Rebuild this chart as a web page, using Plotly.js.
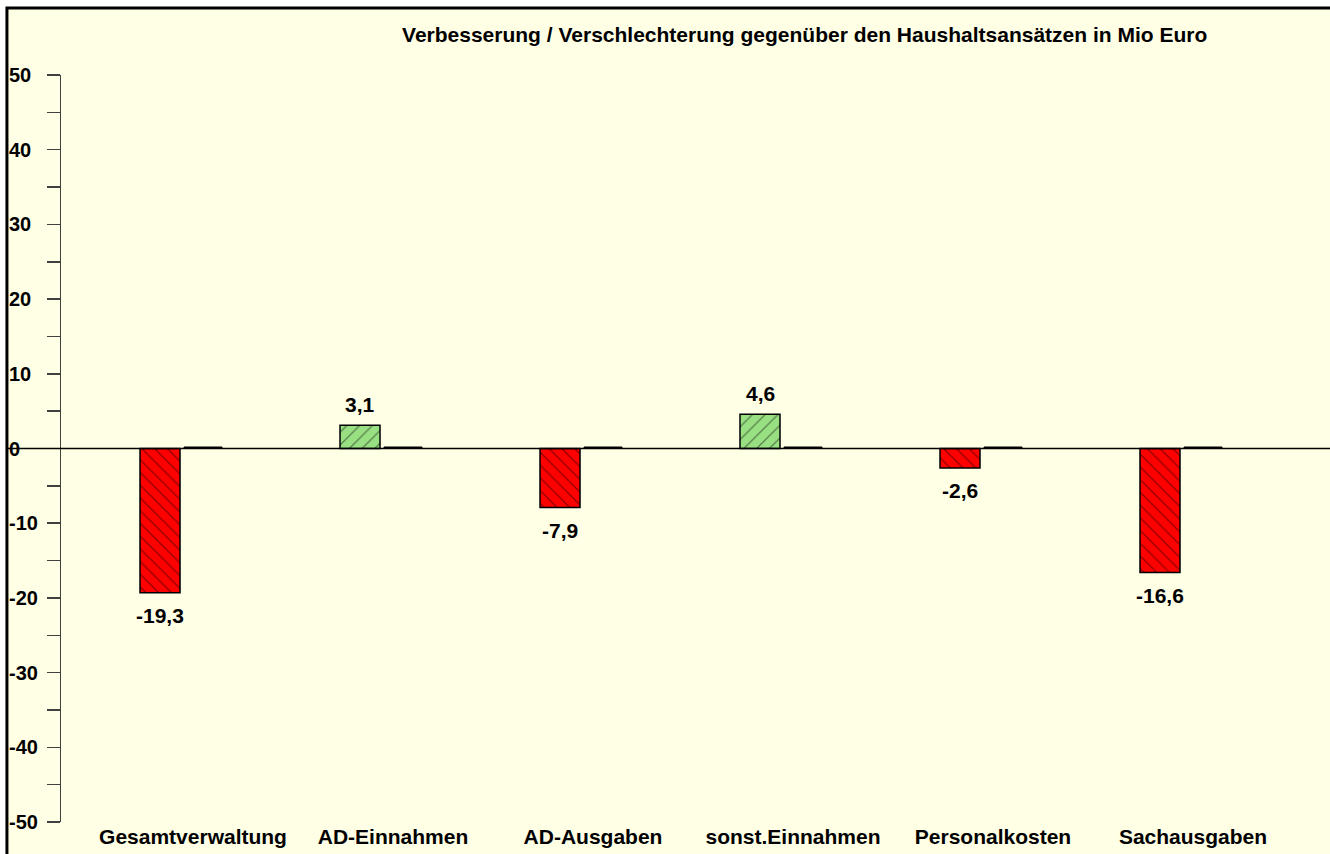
<!DOCTYPE html>
<html>
<head>
<meta charset="utf-8">
<script src="https://cdn.plot.ly/plotly-3.0.1.min.js"></script>
<style>
html,body{margin:0;padding:0;background:#ffffff;}
#chart{width:1330px;height:854px;}
</style>
</head>
<body>
<div id="chart"></div>
<script>
// ---- data ----
const categories = ['Gesamtverwaltung', 'AD-Einnahmen', 'AD-Ausgaben', 'sonst.Einnahmen', 'Personalkosten', 'Sachausgaben'];
const abweichung = [-19.3, 3.1, -7.9, 4.6, -2.6, -16.6];
const zweiteReihe = [0.2, 0.2, 0.2, 0.2, 0.2, 0.2];
const yTickVals = [-50, -40, -30, -20, -10, 0, 10, 20, 30, 40, 50];
const yTickText = ['-50', '-40', '-30', '-20', '-10', '0', '10', '20', '30', '40', '50'];
const chartTitle = 'Verbesserung / Verschlechterung gegenüber den Haushaltsansätzen in Mio Euro';

// ---- styles ----
const FONT = 'Liberation Sans, Arial, sans-serif';
const RED = '#ff0000';
const GREEN = '#99e083';
const BG = '#ffffe6';
const AXIS = '#404040';

// split the main series by sign so each part has its own colour and hatch
const verschlechterung = abweichung.map(v => v < 0 ? v : null);
const verbesserung = abweichung.map(v => v >= 0 ? v : null);
const barLabels = abweichung.map(v => String(v).replace('.', ','));

function hatchBar(yVals, color, shape) {
  return {
    type: 'bar',
    x: categories,
    y: yVals,
    offset: -0.205,
    width: 0.2,
    marker: {
      color: color,
      line: {color: '#000000', width: 1.5},
      pattern: {shape: shape, fgcolor: '#000000', bgcolor: color, size: 9, solidity: 0.13, fillmode: 'overlay'}
    },
    hoverinfo: 'x+y',
    showlegend: false
  };
}

const traces = [
  hatchBar(verschlechterung, RED, '\\'),
  hatchBar(verbesserung, GREEN, '/'),
  {
    type: 'bar',
    x: categories,
    y: zweiteReihe,
    offset: 0.015,
    width: 0.19,
    marker: {color: '#000000', line: {color: '#000000', width: 1}},
    hoverinfo: 'skip',
    showlegend: false
  },
  {
    type: 'scatter', x: [], y: [], yaxis: 'y2', xaxis: 'x',
    showlegend: false, hoverinfo: 'skip'
  }
];

// value labels, placed at each bar end through the axes
const labelAnnotations = abweichung.map((v, i) => ({
  xref: 'x', yref: 'y',
  x: categories[i], y: v,
  text: barLabels[i],
  showarrow: false,
  xanchor: 'center',
  yanchor: v < 0 ? 'top' : 'bottom',
  xshift: -21,
  yshift: v < 0 ? -9 : 7,
  font: {family: FONT, size: 21, color: '#000000', weight: 'bold'}
}));

const layout = {
  width: 1330,
  height: 854,
  margin: {l: 8, r: 0, t: 75, b: 32},
  paper_bgcolor: '#ffffff',
  plot_bgcolor: 'rgba(0,0,0,0)',
  barmode: 'overlay',
  showlegend: false,
  title: {
    text: chartTitle,
    font: {family: FONT, size: 21, color: '#000000', weight: 'bold'},
    x: 0.605, xanchor: 'center',
    y: 0.96, yanchor: 'middle'
  },
  xaxis: {
    type: 'category',
    domain: [0.0401, 1],
    range: [-0.6, 5.745],
    showline: false,
    showgrid: false,
    zeroline: false,
    ticks: '',
    ticklabelshift: 12,
    tickfont: {family: FONT, size: 21, color: '#000000', weight: 'bold'},
    fixedrange: true
  },
  yaxis: {
    range: [-50, 50],
    anchor: 'x',
    showline: true,
    linecolor: AXIS,
    linewidth: 1.5,
    showgrid: false,
    zeroline: false,
    tickmode: 'array',
    tickvals: yTickVals,
    showticklabels: false,
    ticks: 'outside',
    ticklen: 13,
    tickwidth: 1.5,
    tickcolor: AXIS,
    minor: {tickmode: 'linear', tick0: -45, dtick: 10, ticks: 'outside', ticklen: 13, tickwidth: 1.5, tickcolor: AXIS, showgrid: false},
    fixedrange: true
  },
  yaxis2: {
    range: [-50, 50],
    overlaying: 'y',
    anchor: 'free',
    position: 0,
    side: 'right',
    showline: false,
    showgrid: false,
    zeroline: false,
    ticks: '',
    tickmode: 'array',
    tickvals: yTickVals,
    ticktext: yTickText,
    tickfont: {family: FONT, size: 20, color: '#000000', weight: 'bold'},
    ticklabelstandoff: 0,
    fixedrange: true
  },
  annotations: labelAnnotations,
  shapes: [
    {
      type: 'rect', xref: 'paper', yref: 'paper', layer: 'below',
      x0: -0.0008, x1: 1.02, y0: -0.2, y1: 1.0897,
      fillcolor: BG, line: {color: '#000000', width: 3}
    },
    {
      type: 'line', xref: 'paper', yref: 'y', layer: 'above',
      x0: -0.0008, x1: 1, y0: 0, y1: 0,
      line: {color: '#000000', width: 1.5}
    }
  ]
};

Plotly.newPlot('chart', traces, layout, {displayModeBar: false, staticPlot: true});
</script>
</body>
</html>
